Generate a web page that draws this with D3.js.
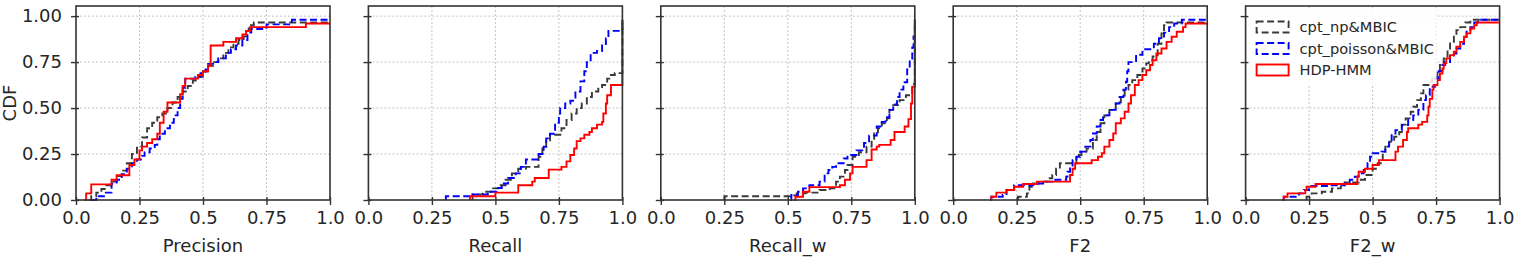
<!DOCTYPE html>
<html>
<head>
<meta charset="utf-8">
<script src="https://cdn.jsdelivr.net/npm/d3@7/dist/d3.min.js"></script>
<style>
  html, body { margin: 0; padding: 0; background: #fff; }
  svg { display: block; font-family: "DejaVu Sans", sans-serif; }
</style>
</head>
<body>
<svg id="chart" width="1521" height="269"></svg>
<script>
// ---------------- data ----------------
const metrics = ["Precision", "Recall", "Recall_w", "F2", "F2_w"];
const seriesNames = ["cpt_np&MBIC", "cpt_poisson&MBIC", "HDP-HMM"];
const xTickValues = [0, 0.25, 0.5, 0.75, 1.0];
const xTickLabels = ["0.0", "0.25", "0.5", "0.75", "1.0"];
const yTickValues = [0, 0.25, 0.5, 0.75, 1.0];
const yTickLabels = ["0.00", "0.25", "0.50", "0.75", "1.00"];
const yLabel = "CDF";

const precisionNp = [[0.05,0],[0.06,0.02],[0.08,0.04],[0.10,0.06],[0.12,0.08],[0.14,0.10],[0.16,0.13],[0.18,0.16],[0.20,0.20],[0.22,0.25],[0.24,0.29],[0.26,0.34],[0.28,0.39],[0.30,0.42],[0.32,0.45],[0.34,0.47],[0.36,0.50],[0.38,0.53],[0.40,0.56],[0.42,0.59],[0.44,0.62],[0.46,0.65],[0.48,0.67],[0.50,0.70],[0.52,0.73],[0.54,0.75],[0.56,0.77],[0.58,0.80],[0.60,0.83],[0.62,0.85],[0.64,0.87],[0.66,0.89],[0.67,0.92],[0.68,0.95],[0.70,0.965],[1.0,0.965]];
const precisionPois = [[0.06,0],[0.08,0.02],[0.11,0.04],[0.14,0.09],[0.16,0.11],[0.18,0.14],[0.20,0.17],[0.22,0.20],[0.24,0.22],[0.26,0.24],[0.27,0.26],[0.29,0.28],[0.31,0.30],[0.32,0.33],[0.33,0.36],[0.35,0.39],[0.37,0.42],[0.385,0.46],[0.40,0.50],[0.41,0.55],[0.42,0.61],[0.43,0.66],[0.47,0.67],[0.49,0.69],[0.51,0.71],[0.52,0.74],[0.54,0.75],[0.56,0.77],[0.59,0.80],[0.61,0.82],[0.63,0.84],[0.655,0.87],[0.675,0.91],[0.69,0.93],[0.75,0.955],[0.85,0.98],[1.0,0.98]];
const precisionHdp = [[0.033,0],[0.04,0.036],[0.06,0.085],[0.14,0.11],[0.16,0.135],[0.21,0.19],[0.23,0.22],[0.25,0.27],[0.26,0.29],[0.28,0.31],[0.30,0.33],[0.32,0.36],[0.33,0.42],[0.345,0.48],[0.36,0.53],[0.41,0.575],[0.42,0.62],[0.43,0.66],[0.48,0.68],[0.50,0.70],[0.52,0.73],[0.53,0.84],[0.58,0.86],[0.63,0.88],[0.655,0.90],[0.67,0.92],[0.685,0.94],[0.905,0.96],[1.0,0.96]];

const recallNp = [[0.41,0],[0.41,0.03],[0.45,0.045],[0.49,0.063],[0.51,0.08],[0.54,0.11],[0.565,0.145],[0.59,0.17],[0.62,0.18],[0.67,0.235],[0.685,0.28],[0.70,0.325],[0.715,0.355],[0.76,0.39],[0.78,0.435],[0.80,0.47],[0.82,0.50],[0.84,0.525],[0.86,0.56],[0.88,0.59],[0.905,0.605],[0.92,0.625],[0.94,0.66],[0.955,0.68],[0.97,0.69],[1.0,0.98]];
const recallPois = [[0.305,0],[0.305,0.02],[0.41,0.03],[0.47,0.045],[0.505,0.065],[0.525,0.09],[0.55,0.12],[0.58,0.145],[0.60,0.18],[0.62,0.22],[0.67,0.25],[0.69,0.29],[0.70,0.335],[0.715,0.36],[0.735,0.42],[0.75,0.47],[0.755,0.50],[0.775,0.525],[0.795,0.54],[0.815,0.59],[0.835,0.645],[0.85,0.70],[0.86,0.75],[0.875,0.80],[0.90,0.81],[0.92,0.84],[0.935,0.88],[0.945,0.92],[1.0,0.98]];
const recallHdp = [[0.40,0],[0.40,0.02],[0.50,0.04],[0.59,0.08],[0.645,0.10],[0.655,0.12],[0.71,0.165],[0.76,0.18],[0.78,0.21],[0.795,0.245],[0.81,0.28],[0.82,0.32],[0.835,0.335],[0.85,0.355],[0.87,0.37],[0.88,0.39],[0.90,0.41],[0.92,0.425],[0.925,0.47],[0.935,0.525],[0.94,0.57],[0.955,0.625],[1.0,0.98]];

const recallWNp = [[0.25,0],[0.25,0.02],[0.51,0.025],[0.535,0.036],[0.57,0.04],[0.625,0.054],[0.665,0.063],[0.69,0.10],[0.705,0.127],[0.725,0.163],[0.735,0.19],[0.755,0.235],[0.78,0.26],[0.81,0.29],[0.83,0.326],[0.84,0.362],[0.855,0.39],[0.87,0.417],[0.89,0.444],[0.90,0.49],[0.915,0.516],[0.94,0.543],[0.965,0.57],[0.985,0.58],[0.99,0.63],[1.0,0.98]];
const recallWPois = [[0.51,0],[0.514,0.027],[0.54,0.045],[0.56,0.063],[0.585,0.08],[0.625,0.10],[0.645,0.145],[0.66,0.163],[0.675,0.18],[0.69,0.20],[0.72,0.226],[0.735,0.245],[0.77,0.27],[0.80,0.31],[0.82,0.35],[0.85,0.40],[0.87,0.425],[0.885,0.45],[0.90,0.49],[0.915,0.52],[0.93,0.56],[0.94,0.60],[0.955,0.64],[0.97,0.71],[0.98,0.76],[0.99,0.83],[0.995,0.89],[1.0,0.98]];
const recallWHdp = [[0.525,0],[0.53,0.018],[0.56,0.045],[0.585,0.07],[0.705,0.08],[0.725,0.11],[0.745,0.145],[0.755,0.18],[0.81,0.217],[0.83,0.275],[0.85,0.29],[0.86,0.30],[0.905,0.326],[0.92,0.37],[0.96,0.40],[0.975,0.44],[0.985,0.525],[0.99,0.616],[1.0,0.98]];

const f2Np = [[0.255,0],[0.255,0.018],[0.29,0.036],[0.30,0.072],[0.32,0.09],[0.355,0.10],[0.38,0.118],[0.39,0.136],[0.405,0.17],[0.42,0.20],[0.485,0.245],[0.505,0.263],[0.525,0.28],[0.55,0.326],[0.565,0.37],[0.58,0.417],[0.595,0.46],[0.615,0.49],[0.64,0.525],[0.66,0.56],[0.675,0.60],[0.69,0.625],[0.705,0.652],[0.725,0.68],[0.745,0.715],[0.76,0.743],[0.77,0.76],[0.785,0.78],[0.805,0.85],[0.82,0.906],[0.83,0.95],[0.84,0.965],[1.0,0.965]];
const f2Pois = [[0.147,0],[0.15,0.018],[0.195,0.027],[0.21,0.054],[0.24,0.08],[0.315,0.09],[0.365,0.10],[0.39,0.11],[0.445,0.127],[0.45,0.154],[0.46,0.18],[0.47,0.217],[0.485,0.235],[0.50,0.263],[0.52,0.29],[0.54,0.326],[0.55,0.362],[0.565,0.40],[0.58,0.435],[0.59,0.46],[0.615,0.49],[0.64,0.525],[0.655,0.56],[0.67,0.60],[0.68,0.643],[0.685,0.70],[0.69,0.75],[0.72,0.79],[0.745,0.82],[0.79,0.85],[0.81,0.88],[0.83,0.91],[0.85,0.94],[0.87,0.96],[0.90,0.98],[1.0,0.98]];
const f2Hdp = [[0.147,0],[0.15,0.018],[0.17,0.04],[0.21,0.054],[0.24,0.072],[0.275,0.087],[0.33,0.10],[0.46,0.136],[0.47,0.17],[0.48,0.20],[0.545,0.217],[0.57,0.235],[0.585,0.254],[0.595,0.29],[0.615,0.326],[0.63,0.362],[0.64,0.417],[0.66,0.444],[0.675,0.48],[0.69,0.525],[0.70,0.57],[0.715,0.625],[0.73,0.652],[0.745,0.68],[0.76,0.706],[0.775,0.734],[0.785,0.76],[0.80,0.797],[0.82,0.824],[0.84,0.86],[0.86,0.888],[0.88,0.915],[0.905,0.94],[0.915,0.96],[1.0,0.96]];

const f2WNp = [[0.24,0],[0.24,0.018],[0.26,0.036],[0.30,0.045],[0.34,0.063],[0.375,0.08],[0.39,0.095],[0.445,0.11],[0.47,0.136],[0.50,0.17],[0.52,0.20],[0.54,0.254],[0.55,0.29],[0.565,0.317],[0.585,0.344],[0.605,0.37],[0.615,0.41],[0.63,0.444],[0.65,0.48],[0.66,0.507],[0.675,0.543],[0.69,0.58],[0.70,0.625],[0.72,0.643],[0.735,0.67],[0.755,0.706],[0.765,0.734],[0.78,0.77],[0.795,0.815],[0.805,0.86],[0.82,0.897],[0.83,0.924],[0.845,0.94],[0.865,0.965],[0.885,0.98],[1.0,0.98]];
const f2WPois = [[0.145,0],[0.15,0.018],[0.21,0.036],[0.23,0.054],[0.25,0.076],[0.33,0.08],[0.39,0.09],[0.41,0.11],[0.43,0.127],[0.445,0.145],[0.465,0.163],[0.48,0.20],[0.49,0.235],[0.50,0.254],[0.535,0.263],[0.55,0.29],[0.565,0.317],[0.575,0.353],[0.59,0.38],[0.615,0.408],[0.64,0.435],[0.66,0.46],[0.68,0.49],[0.70,0.543],[0.71,0.57],[0.725,0.616],[0.745,0.66],[0.76,0.70],[0.775,0.734],[0.785,0.75],[0.805,0.78],[0.82,0.797],[0.83,0.824],[0.845,0.85],[0.86,0.888],[0.87,0.915],[0.885,0.94],[0.90,0.965],[0.915,0.98],[1.0,0.98]];
const f2WHdp = [[0.145,0],[0.15,0.018],[0.165,0.036],[0.235,0.054],[0.24,0.072],[0.275,0.087],[0.44,0.127],[0.445,0.154],[0.47,0.17],[0.50,0.19],[0.525,0.217],[0.59,0.263],[0.60,0.29],[0.62,0.326],[0.635,0.37],[0.64,0.39],[0.68,0.41],[0.695,0.425],[0.715,0.46],[0.72,0.507],[0.725,0.55],[0.735,0.60],[0.74,0.625],[0.755,0.652],[0.765,0.688],[0.775,0.715],[0.78,0.743],[0.79,0.77],[0.805,0.788],[0.82,0.806],[0.83,0.834],[0.845,0.86],[0.86,0.888],[0.87,0.906],[0.885,0.933],[0.90,0.95],[0.91,0.965],[1.0,0.965]];

const npSeries = [precisionNp, recallNp, recallWNp, f2Np, f2WNp];
const poisSeries = [precisionPois, recallPois, recallWPois, f2Pois, f2WPois];
const hdpSeries = [precisionHdp, recallHdp, recallWHdp, f2Hdp, f2WHdp];

// ---------------- layout / style ----------------
const panelW = 254, panelTop = 6, panelBottom = 200, firstLeft = 76, panelStep = 292.4;
const colors = ["#3a3a3a", "#0000ff", "#ff0000"];
const dashes = ["7,3.5", "7,3.5", null];
const fontFam = "'DejaVu Sans', sans-serif";
const textColor = "#262626";

const svg = d3.select("#chart");
const y = d3.scaleLinear().domain([0, 1.055]).range([panelBottom, panelTop]);

metrics.forEach((metric, i) => {
  const left = firstLeft + i * panelStep;
  const x = d3.scaleLinear().domain([0, 1]).range([left, left + panelW]);
  const g = svg.append("g");

  // grid
  g.selectAll(".gx").data(xTickValues.slice(1, -1)).join("line")
    .attr("x1", d => x(d)).attr("x2", d => x(d))
    .attr("y1", panelTop).attr("y2", panelBottom)
    .attr("stroke", "#c4c4c4").attr("stroke-width", 1).attr("stroke-dasharray", "2,2");
  g.selectAll(".gy").data(yTickValues.slice(1)).join("line")
    .attr("x1", left).attr("x2", left + panelW)
    .attr("y1", d => y(d)).attr("y2", d => y(d))
    .attr("stroke", "#c4c4c4").attr("stroke-width", 1).attr("stroke-dasharray", "2,2");

  // series
  const line = d3.line().x(d => x(d[0])).y(d => y(d[1])).curve(d3.curveStepAfter);
  [npSeries[i], poisSeries[i], hdpSeries[i]].forEach((s, k) => {
    g.append("path").datum(s).attr("d", line)
      .attr("fill", "none").attr("stroke", colors[k])
      .attr("stroke-width", 1.9)
      .attr("stroke-dasharray", dashes[k]);
  });

  // frame
  g.append("rect").attr("x", left).attr("y", panelTop)
    .attr("width", panelW).attr("height", panelBottom - panelTop)
    .attr("fill", "none").attr("stroke", "#333").attr("stroke-width", 1.6);

  // x axis ticks & labels
  const xAxis = d3.axisBottom(x).tickValues(xTickValues)
    .tickFormat((d, j) => xTickLabels[j]).tickSizeInner(5).tickSizeOuter(0).tickPadding(8);
  const xa = g.append("g").attr("transform", `translate(0,${panelBottom})`).call(xAxis);
  xa.select(".domain").remove();
  xa.selectAll(".tick line").attr("y1", -3).attr("stroke", "#333").attr("stroke-width", 1.4);
  xa.selectAll(".tick text").attr("font-size", 18).attr("font-family", fontFam)
    .attr("fill", textColor).attr("dy", "0.71em").attr("y", 11);

  // y axis ticks (labels only on first panel)
  const yAxis = d3.axisLeft(y).tickValues(yTickValues)
    .tickFormat((d, j) => i === 0 ? yTickLabels[j] : "").tickSizeInner(5).tickSizeOuter(0).tickPadding(9);
  const ya = g.append("g").attr("transform", `translate(${left},0)`).call(yAxis);
  ya.select(".domain").remove();
  ya.selectAll(".tick line").attr("x1", 3).attr("stroke", "#333").attr("stroke-width", 1.4);
  ya.selectAll(".tick text").attr("font-size", 18).attr("font-family", fontFam).attr("fill", textColor);

  // axis label
  g.append("text").attr("x", left + panelW / 2).attr("y", 252)
    .attr("text-anchor", "middle").attr("font-size", 18).attr("font-family", fontFam)
    .attr("fill", textColor).text(metric);

  if (i === 0) {
    g.append("text").attr("transform", `translate(16,${(panelTop + panelBottom) / 2}) rotate(-90)`)
      .attr("text-anchor", "middle").attr("font-size", 18).attr("font-family", fontFam)
      .attr("fill", textColor).text(yLabel);
  }

  // legend in last panel
  if (i === metrics.length - 1) {
    const lg = g.append("g");
    lg.append("rect").attr("x", left + 3).attr("y", 10).attr("width", 188).attr("height", 74)
      .attr("fill", "#fff").attr("fill-opacity", 0.85);
    seriesNames.forEach((name, k) => {
      const cy = 27 + k * 21.5;
      lg.append("rect").attr("x", left + 11).attr("y", cy - 5.5).attr("width", 32).attr("height", 11)
        .attr("fill", "none").attr("stroke", colors[k]).attr("stroke-width", 1.9)
        .attr("stroke-dasharray", dashes[k]);
      lg.append("text").attr("x", left + 54).attr("y", cy).attr("dy", "0.36em")
        .attr("font-size", 14.6).attr("font-family", fontFam).attr("fill", textColor).text(name);
    });
  }
});
</script>
</body>
</html>
